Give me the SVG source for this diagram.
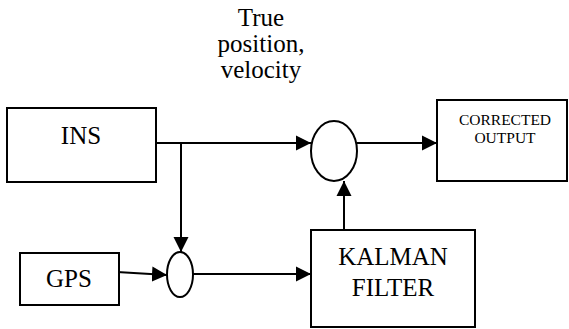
<svg xmlns="http://www.w3.org/2000/svg" width="569" height="329" viewBox="0 0 569 329">
<style>
.box{fill:#fff;stroke:#000;stroke-width:2}
.lbl{font-size:25px;fill:#000;text-anchor:middle}
.sm{font-size:15.5px}
.ln{stroke:#000;stroke-width:2;fill:none;marker-end:url(#ah)}
</style>
<defs>
<marker id="ah" markerUnits="userSpaceOnUse" markerWidth="16" markerHeight="16" viewBox="0 0 16 16" refX="15" refY="8" orient="auto">
<path d="M0,0.5 L15,8 L0,15.5 Z" fill="#000"/>
</marker>
</defs>
<rect width="569" height="329" fill="#fff"/>
<g font-family="'Liberation Serif', 'Times New Roman', 'DejaVu Serif', serif">
<g id="label-true">
<text class="lbl" x="261" y="26">True</text>
<text class="lbl" x="261" y="52">position,</text>
<text class="lbl" x="261" y="78">velocity</text>
</g>
<g id="connectors">
<line class="ln" x1="156" y1="143" x2="311" y2="143"/>
<line class="ln" x1="181" y1="143" x2="181" y2="252"/>
<line class="ln" x1="117" y1="272" x2="167" y2="275"/>
<line class="ln" x1="193" y1="274" x2="311" y2="274"/>
<line class="ln" x1="344" y1="230" x2="344" y2="181"/>
<line class="ln" x1="357" y1="143" x2="437" y2="143"/>
</g>
<g id="ins">
<rect class="box" x="7" y="108" width="149" height="74"/>
<text class="lbl" x="81" y="144">INS</text>
</g>
<g id="gps">
<rect class="box" x="20" y="253" width="99" height="52"/>
<text class="lbl" x="69" y="287">GPS</text>
</g>
<g id="sum-small">
<ellipse class="box" cx="180" cy="274.5" rx="13" ry="22.5"/>
</g>
<g id="sum-big">
<ellipse class="box" cx="334" cy="151" rx="23" ry="30"/>
</g>
<g id="kalman">
<rect class="box" x="311" y="230" width="164" height="97"/>
<text class="lbl" x="393" y="265">KALMAN</text>
<text class="lbl" x="393" y="296">FILTER</text>
</g>
<g id="corrected">
<rect class="box" x="437" y="100" width="130" height="81"/>
<text class="lbl sm" x="505" y="125">CORRECTED</text>
<text class="lbl sm" x="505" y="143">OUTPUT</text>
</g>
</g>
</svg>
